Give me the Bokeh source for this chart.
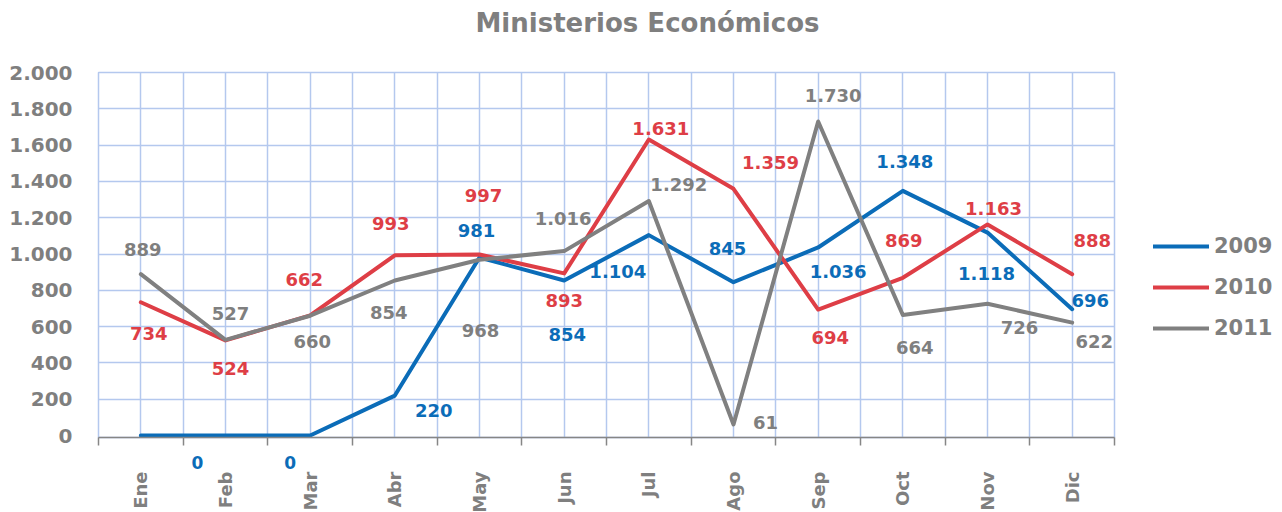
import math
from bokeh.plotting import figure
from bokeh.models import (FixedTicker, Legend, LegendItem, ColumnDataSource, Range1d,
                          LabelSet, LinearAxis, Title)
from bokeh.embed import file_html
from bokeh.resources import INLINE
from bokeh.core.properties import value

months = ["Ene", "Feb", "Mar", "Abr", "May", "Jun", "Jul", "Ago", "Sep", "Oct", "Nov", "Dic"]
series_names = ["2009", "2010", "2011"]
v2009 = [0, 0, 0, 220, 981, 854, 1104, 845, 1036, 1348, 1118, 696]
v2010 = [734, 524, 662, 993, 997, 893, 1631, 1359, 694, 869, 1163, 888]
v2011 = [889, 527, 660, 854, 968, 1016, 1292, 61, 1730, 664, 726, 622]
y_ticks = [0, 200, 400, 600, 800, 1000, 1200, 1400, 1600, 1800, 2000]
y_tick_labels = ["0", "200", "400", "600", "800", "1.000", "1.200", "1.400", "1.600", "1.800", "2.000"]
# 2009: which points carry a value label (Ene has none)
show2009 = [False, True, True, True, True, True, True, True, True, True, True, True]

# label placement (screen pixel offsets from each point, positive dy = downwards)
dx2009 = [0, -28, -20, 39, -3, 3, -31, -6, 20, 2, -1, 18]
dy2009 = [0, 27, 27, 15, -27, 54, 36, -34, 24, -29, 41, -9]
dx2010 = [8, 5, -6, -4, 4, 0, 12, 37, 12, 1, 6, 20]
dy2010 = [31, 28, -36, -32, -59, 27, -11, -26, 28, -37, -16, -34]
dx2011 = [2, 5, 2, -6, 1, -1, 30, 32, 15, 12, 32, 22]
dy2011 = [-25, -26, 26, 32, 71, -33, -17, -2, -26, 33, 24, 19]

colors = ["#0B6CB8", "#DE3E46", "#808080"]
label_colors = ["#0B6CB8", "#DE3E46", "#7F7F7F"]
TEXT = "#7F7F7F"
GRID = "#B4C8EE"
AXIS = "#868686"
FONT = "DejaVu Sans"
FRAME_W = 1016


def fmt(v):
    return f"{v:,}".replace(",", ".")


xs = [i + 0.5 for i in range(len(months))]
bounds = list(range(len(months) + 1))
px_per_cat = FRAME_W / len(months)

p = figure(frame_width=FRAME_W, frame_height=365, title=None,
           x_range=Range1d(0, 12), y_range=Range1d(-11, 2000),
           output_backend="svg", toolbar_location=None,
           min_border_left=98, min_border_right=166,
           min_border_top=72, min_border_bottom=73,
           background_fill_color="white", border_fill_color="white")

# titles: a thin spacer next to the frame, then the real title above it
p.add_layout(Title(text=" ", text_font_size="1px", standoff=32), "above")
p.add_layout(Title(text="Ministerios Económicos", align="left", offset=377, standoff=0,
                   text_font=FONT, text_font_size="26px", text_font_style="bold",
                   text_color=TEXT), "above")

# x axis next to the frame: axis line, boundary ticks, and the 2009 zero labels
zero_idx = [i for i, (v, s) in enumerate(zip(v2009, show2009)) if s and v == 0]
zero_pos = [xs[i] + dx2009[i] / px_per_cat for i in zero_idx]
xax = p.xaxis[0]
xax.ticker = FixedTicker(ticks=zero_pos, minor_ticks=bounds)
xax.major_label_overrides = {x: fmt(v2009[i]) for x, i in zip(zero_pos, zero_idx)}
xax.major_tick_out = 0
xax.major_tick_in = 0
xax.minor_tick_out = 8
xax.minor_tick_in = 0
xax.minor_tick_line_color = AXIS
xax.minor_tick_line_width = 1.5
xax.axis_line_color = AXIS
xax.axis_line_width = 1.5
xax.major_label_standoff = 10
xax.major_label_text_font = FONT
xax.major_label_text_font_size = "17px"
xax.major_label_text_font_style = "bold"
xax.major_label_text_color = label_colors[0]

# month labels
max_ = LinearAxis(ticker=FixedTicker(ticks=xs))
max_.major_label_overrides = {x: m for x, m in zip(xs, months)}
max_.major_label_orientation = math.pi / 2
max_.axis_line_color = None
max_.major_tick_line_color = None
max_.minor_tick_line_color = None
max_.major_tick_out = 0
max_.major_tick_in = 0
max_.major_label_standoff = 0
max_.major_label_text_font = FONT
max_.major_label_text_font_size = "18px"
max_.major_label_text_font_style = "bold"
max_.major_label_text_color = TEXT
p.add_layout(max_, "below")

yax = p.yaxis[0]
yax.ticker = FixedTicker(ticks=y_ticks)
yax.major_label_overrides = {t: l for t, l in zip(y_ticks, y_tick_labels)}
yax.axis_line_color = None
yax.major_tick_line_color = None
yax.minor_tick_line_color = None
yax.major_label_standoff = 20
yax.major_label_text_font = FONT
yax.major_label_text_font_size = "20px"
yax.major_label_text_font_style = "bold"
yax.major_label_text_color = TEXT

# grid
p.xgrid.ticker = FixedTicker(ticks=xs, minor_ticks=bounds)
p.xgrid.grid_line_color = GRID
p.xgrid.grid_line_width = 1.5
p.xgrid.minor_grid_line_color = GRID
p.xgrid.minor_grid_line_width = 1.5
p.ygrid.ticker = FixedTicker(ticks=y_ticks[1:])
p.ygrid.grid_line_color = GRID
p.ygrid.grid_line_width = 1.5
p.outline_line_color = GRID
p.outline_line_width = 1.5

series = [v2009, v2010, v2011]
dxs = [dx2009, dx2010, dx2011]
dys = [dy2009, dy2010, dy2011]
renderers = []
for name, vals, col in zip(series_names, series, colors):
    src = ColumnDataSource(dict(x=xs, y=vals))
    r = p.line("x", "y", source=src, line_color=col, line_width=4,
               line_join="round", line_cap="round")
    renderers.append(r)

for k, (vals, lc, dx, dy) in enumerate(zip(series, label_colors, dxs, dys)):
    txt = [fmt(v) for v in vals]
    if k == 0:
        # zero labels of 2009 sit below the axis and are drawn by the axis above
        txt = [t if (s and v != 0) else "" for t, s, v in zip(txt, show2009, vals)]
    src = ColumnDataSource(dict(x=xs, y=vals, t=txt, dx=dx, dy=[-d for d in dy]))
    labels = LabelSet(x="x", y="y", text="t", source=src, x_offset="dx", y_offset="dy",
                      text_align="center", text_baseline="middle",
                      text_font=value(FONT), text_font_size=value("18px"),
                      text_font_style=value("bold"), text_color=value(lc))
    p.add_layout(labels)

legend = Legend(items=[LegendItem(label=n, renderers=[r]) for n, r in zip(series_names, renderers)],
                location=(39, 97))
legend.glyph_width = 56
legend.glyph_height = 24
legend.label_height = 24
legend.spacing = 17
legend.padding = 0
legend.margin = 0
legend.label_standoff = 5
legend.border_line_color = None
legend.background_fill_alpha = 0
legend.label_text_font = FONT
legend.label_text_font_size = "21px"
legend.label_text_font_style = "bold"
legend.label_text_color = TEXT
p.add_layout(legend, "right")

open("out.html", "w").write(file_html(p, INLINE))
